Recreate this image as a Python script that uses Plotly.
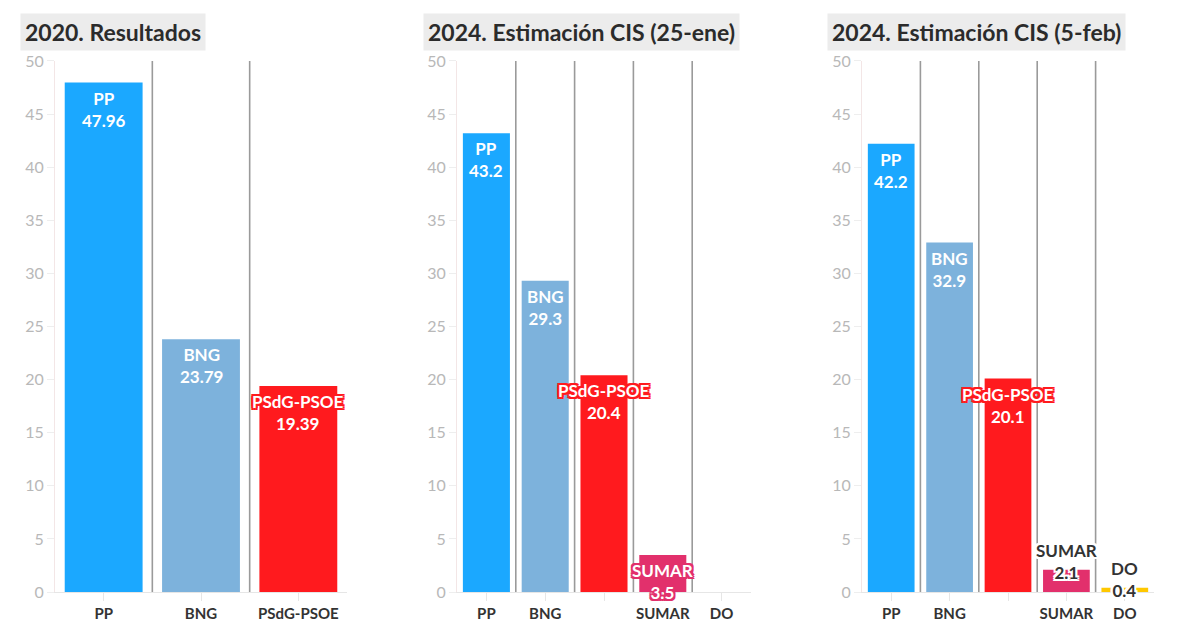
import plotly.graph_objects as go

# ---- data ----
titles = ["2020. Resultados", "2024. Estimación CIS (25-ene)", "2024. Estimación CIS (5-feb)"]
cats_2020 = ["PP", "BNG", "PSdG-PSOE"]
vals_2020 = [47.96, 23.79, 19.39]
labels_2020 = ["47.96", "23.79", "19.39"]
ticks_2020 = ["PP", "BNG", "PSdG-PSOE"]

cats_jan = ["PP", "BNG", "PSdG-PSOE", "SUMAR", "DO"]
vals_jan = [43.2, 29.3, 20.4, 3.5, 0]
labels_jan = ["43.2", "29.3", "20.4", "3.5", ""]
ticks_jan = ["PP", "BNG", "", "SUMAR", "DO"]

cats_feb = ["PP", "BNG", "PSdG-PSOE", "SUMAR", "DO"]
vals_feb = [42.2, 32.9, 20.1, 2.1, 0.4]
labels_feb = ["42.2", "32.9", "20.1", "2.1", "0.4"]
ticks_feb = ["PP", "BNG", "", "SUMAR", "DO"]

party_colors = {"PP": "#1ba8ff", "BNG": "#7db2dc", "PSdG-PSOE": "#ff1a1e",
                "SUMAR": "#e2306c", "DO": "#ffc800"}

panels = [(cats_2020, vals_2020, labels_2020, ticks_2020),
          (cats_jan, vals_jan, labels_jan, ticks_jan),
          (cats_feb, vals_feb, labels_feb, ticks_feb)]

W, H = 1200, 628
# layout positions (pixels) compensated for page offset
OX, OY, HEFF = 8, 18, 610
xdoms = [(55 - OX, 347 - OX), (457 - OX, 751 - OX), (862 - OX, 1154 - OX)]
ytop, ybot = 61, 593
title_x = [20 - OX, 423 - OX, 827 - OX]
FONT = "Lato"


def yfrac(sy):
    return 1 - (sy - OY) / HEFF


def halo(c, r=1.5):
    parts = []
    for dx, dy in [(1, 0), (-1, 0), (0, 1), (0, -1), (1, 1), (-1, -1), (1, -1), (-1, 1)]:
        parts.append(f"{dx*r}px {dy*r}px 0 {c}")
    return ", ".join(parts)


fig = go.Figure()
annotations = []
shapes = []
layout_axes = {}

for i, (cats, vals, labs, ticks) in enumerate(panels):
    n = i + 1
    xa = "x" if n == 1 else f"x{n}"
    ya = "y" if n == 1 else f"y{n}"
    fig.add_trace(go.Bar(
        x=cats, y=vals, xaxis=xa, yaxis=ya, width=0.8,
        marker=dict(color=[party_colors[c] for c in cats], line=dict(width=0)),
        hoverinfo="x+y", showlegend=False,
    ))
    x0, x1 = xdoms[i]
    layout_axes[f"xaxis{'' if n == 1 else n}"] = dict(
        domain=[x0 / W, x1 / W], anchor=ya, type="category",
        categoryorder="array", categoryarray=cats,
        tickmode="array", tickvals=cats, ticktext=ticks,
        tickfont=dict(family=FONT, size=15, color="#333333", weight="bold"),
        ticks="outside", ticklen=8, tickcolor="#e6e6e6",
        showline=True, linecolor="#e6e6e6", linewidth=1,
        showgrid=False, zeroline=False, range=[-0.5, len(cats) - 0.5],
        fixedrange=True,
    )
    layout_axes[f"yaxis{'' if n == 1 else n}"] = dict(
        domain=[yfrac(ybot), yfrac(ytop)], anchor=xa,
        range=[0, 50], dtick=5, tick0=0,
        tickfont=dict(family=FONT, size=16, color="#b8b8b8"),
        ticks="outside", ticklen=7, tickcolor="#eeeeee",
        showline=True, linecolor="#f3e6e6", linewidth=1,
        showgrid=False, zeroline=False, fixedrange=True,
    )
    # separators between categories
    for k in range(len(cats) - 1):
        shapes.append(dict(type="line", xref=xa, yref=f"{ya} domain",
                           x0=k + 0.5, x1=k + 0.5, y0=0, y1=1,
                           line=dict(color="#9a9a9a", width=1.6)))
    # title
    annotations.append(dict(
        text=f"<b>{titles[i]}</b>", xref="paper", yref="paper",
        x=title_x[i] / W, y=yfrac(32), xanchor="left", yanchor="middle",
        showarrow=False, bgcolor="#ececec", borderpad=4,
        font=dict(family=FONT, size=23, color="#2b2b2b"),
    ))
    # value labels
    for c, v, lab in zip(cats, vals, labs):
        if not lab:
            continue
        col = party_colors[c]
        if v >= 3:
            annotations.append(dict(
                text=f"<b>{c}<br>{lab}</b>", xref=xa, yref=ya, x=c, y=v,
                xanchor="center", yanchor="top", yshift=-3, showarrow=False,
                font=dict(family=FONT, size=17, color="white", shadow=halo(col, 2)),
            ))
        else:
            annotations.append(dict(
                text=f"<b>{c}<br>{lab}</b>", xref=xa, yref=ya, x=c, y=v,
                xanchor="center", yanchor="bottom", yshift=-15, showarrow=False,
                font=dict(family=FONT, size=17, color="#333333", shadow=halo("white", 2)),
            ))

fig.update_layout(
    width=W, height=H, margin=dict(l=0, r=0, t=0, b=0),
    paper_bgcolor="white", plot_bgcolor="white",
    bargap=0.2, annotations=annotations, shapes=shapes,
    font=dict(family=FONT), **layout_axes,
)

fig.write_html("out.html")
